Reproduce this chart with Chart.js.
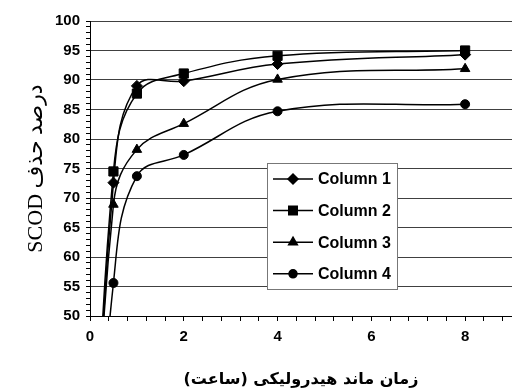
<!DOCTYPE html>
<html>
<head>
<meta charset="utf-8">
<script src="https://cdn.jsdelivr.net/npm/chart.js@4/dist/chart.umd.min.js"></script>
<style>
  html, body { margin: 0; padding: 0; background: #fff; }
  #chart { display: block; direction: rtl; }
</style>
</head>
<body>
<canvas id="chart" width="512" height="392" dir="rtl"></canvas>
<script>
// Hydraulic retention time (hours) and SCOD removal (%)
const hours = [0, 0.5, 1, 2, 4, 8];
const column1 = [0, 72.6, 89.0, 89.8, 92.7, 94.3];
const column2 = [0, 74.5, 87.7, 91.1, 94.1, 95.0];
const column3 = [0, 68.9, 78.2, 82.6, 90.1, 91.9];
const column4 = [0, 55.6, 73.7, 77.3, 84.7, 85.9];
const seriesNames = ['Column 1', 'Column 2', 'Column 3', 'Column 4'];
const seriesStyles = ['rectRot', 'rect', 'triangle', 'circle'];
const seriesRadius = [5.5, 6.5, 5.5, 4.5];
const xLabels = [0, 2, 4, 6, 8];
const xTitle = 'زمان ماند هیدرولیکی (ساعت)';
const yTitle = 'درصد حذف SCOD';

const tickFont = { family: '"Liberation Sans", Arial, sans-serif', size: 15, weight: 'bold' };

function toPoints(values) {
    return hours.map((h, i) => ({ x: h, y: values[i] }));
}

const datasets = [column1, column2, column3, column4].map((values, i) => ({
    label: seriesNames[i],
    data: toPoints(values),
    borderColor: '#000',
    backgroundColor: '#000',
    borderWidth: 1.5,
    tension: 0.4,
    pointStyle: seriesStyles[i],
    pointRadius: ctx => (ctx.raw && ctx.raw.y < 50 ? 0 : seriesRadius[i]),
    pointBorderWidth: 1,
    pointBorderColor: '#000',
    pointBackgroundColor: '#000'
}));

// Legend box sitting inside the plot, like the original Excel chart
const boxLegend = {
    id: 'boxLegend',
    afterDatasetsDraw(chart) {
        const ctx = chart.ctx;
        const left = 267, top = 163, width = 130, height = 126;
        ctx.save();
        ctx.fillStyle = '#fff';
        ctx.fillRect(left, top, width, height);
        ctx.strokeStyle = '#777';
        ctx.lineWidth = 1;
        ctx.strokeRect(left + 0.5, top + 0.5, width, height);
        chart.data.datasets.forEach((ds, i) => {
            const y = 179 + i * 31.6;
            ctx.strokeStyle = '#000';
            ctx.lineWidth = 1.5;
            ctx.beginPath();
            ctx.moveTo(273, y);
            ctx.lineTo(313, y);
            ctx.stroke();
            ctx.fillStyle = '#000';
            Chart.helpers.drawPoint(ctx, {
                pointStyle: seriesStyles[i],
                radius: seriesRadius[i] - 0.5,
                rotation: 0,
                borderWidth: 1
            }, 293, y);
            ctx.font = 'bold 16px "Liberation Sans", Arial, sans-serif';
            ctx.textAlign = 'left';
            ctx.textBaseline = 'middle';
            ctx.direction = 'ltr';
            ctx.fillText(ds.label, 318, y + 1);
        });
        ctx.restore();
    }
};

new Chart(document.getElementById('chart'), {
    type: 'line',
    data: { datasets },
    plugins: [boxLegend],
    options: {
        responsive: false,
        animation: false,
        layout: {
            autoPadding: false,
            padding: { top: 21, right: 0, bottom: 0, left: 0 }
        },
        plugins: {
            legend: { display: false },
            tooltip: { enabled: false }
        },
        scales: {
            x: {
                type: 'linear',
                min: 0,
                max: 9,
                afterBuildTicks: scale => {
                    const ticks = [];
                    for (let i = 0; i * 0.4 <= 9; i++) ticks.push({ value: Math.round(i * 4) / 10 });
                    scale.ticks = ticks;
                },
                afterFit: scale => {
                    scale.height = 76;
                    scale.paddingLeft = 0;
                    scale.paddingRight = 0;
                },
                border: { color: '#000', width: 1 },
                grid: {
                    drawOnChartArea: false,
                    tickLength: 5,
                    tickColor: '#000'
                },
                ticks: {
                    color: '#000',
                    font: tickFont,
                    padding: 7,
                    autoSkip: false,
                    maxRotation: 0,
                    callback: v => (xLabels.includes(Math.round(v * 10) / 10) ? String(Math.round(v)) : '')
                },
                title: {
                    display: true,
                    text: xTitle,
                    color: '#000',
                    font: { family: '"DejaVu Sans", sans-serif', size: 16, weight: 'bold' },
                    padding: { top: 4, bottom: 3 }
                }
            },
            y: {
                min: 50,
                max: 100,
                afterFit: scale => { scale.width = 90; },
                border: { color: '#000', width: 1 },
                grid: {
                    color: ctx => (ctx.tick && ctx.tick.value % 5 === 0 ? '#404040' : 'rgba(0,0,0,0)'),
                    tickColor: '#000',
                    tickLength: 4
                },
                ticks: {
                    stepSize: 1,
                    autoSkip: false,
                    color: '#000',
                    font: tickFont,
                    padding: 6,
                    callback: v => (v % 5 === 0 ? String(v) : '')
                },
                title: {
                    display: true,
                    text: yTitle,
                    color: '#000',
                    font: { family: '"Liberation Serif", "DejaVu Sans", serif', size: 22 },
                    padding: { top: 23, bottom: 0 }
                }
            }
        }
    }
});
</script>
</body>
</html>
